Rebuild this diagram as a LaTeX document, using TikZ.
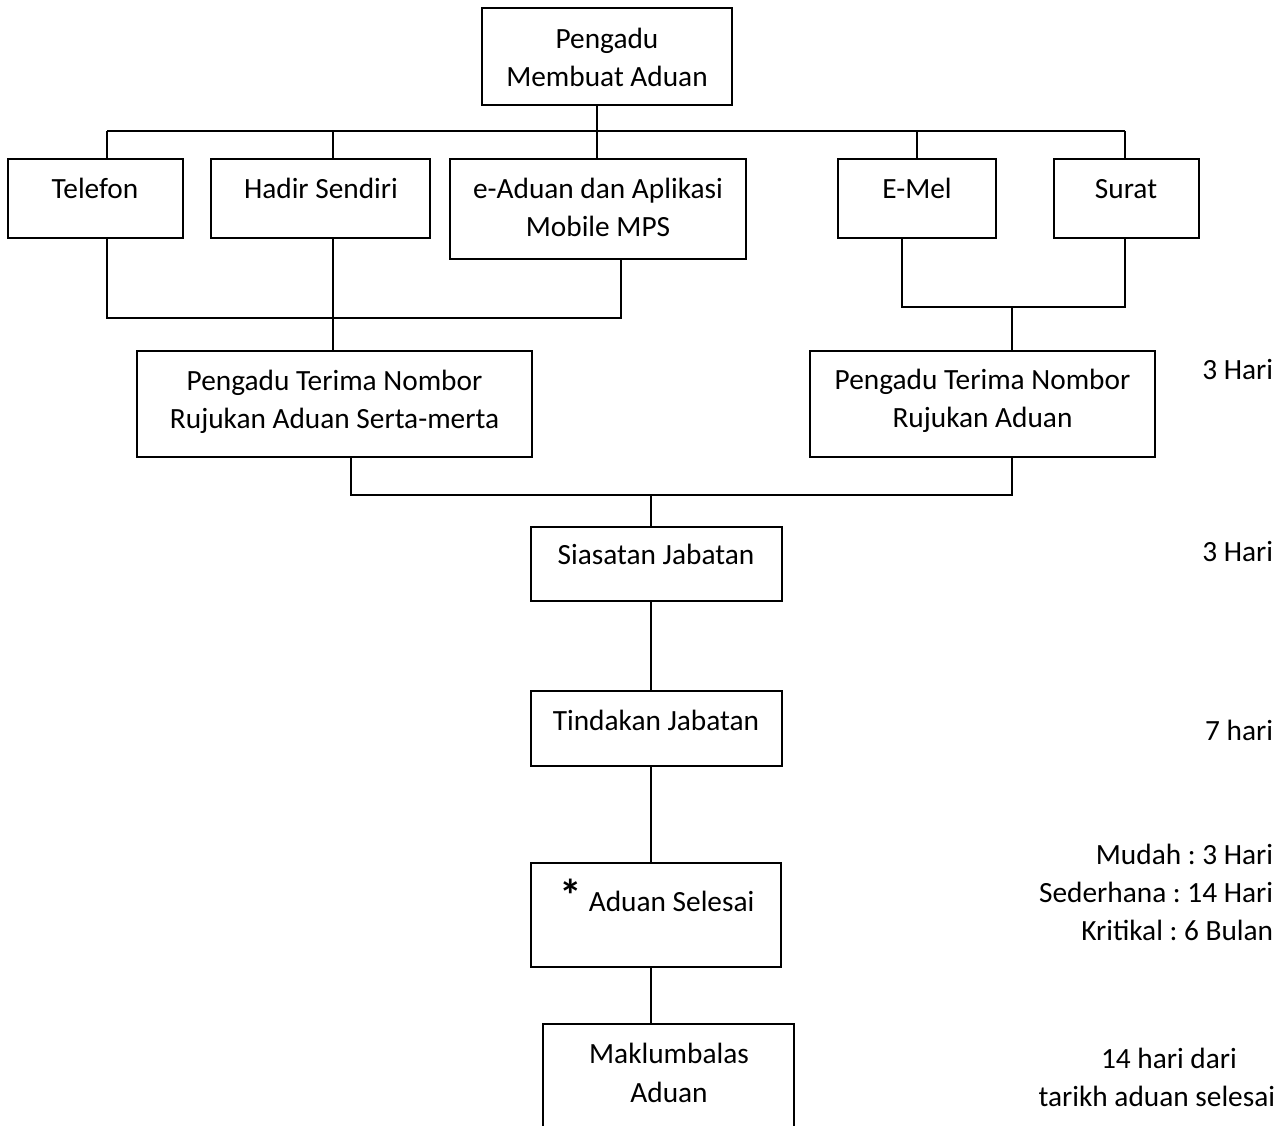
\documentclass[tikz,border=0pt]{standalone}
\usepackage{fontspec}
\setmainfont{Carlito}
\frenchspacing
\begin{document}
\begin{tikzpicture}[x=0.75pt,y=-0.75pt,
  line width=1.3pt,
  box/.style 2 args={draw, line width=1.3pt, inner sep=0pt,
    minimum width={#1*0.75pt}, minimum height={#2*0.75pt}},
  txt/.style={font=\fontsize{22}{29}\selectfont, inner sep=0pt, align=center, anchor=base},
  rtxt/.style={font=\fontsize{22}{28.5}\selectfont, inner sep=0pt, align=right, anchor=base east}]
\useasboundingbox (0,0) rectangle (1286,1126);

% boxes
\node[box={250}{97}]  (top)   at (607,56.5)   {};
\node[box={175}{79}]  (tel)   at (95.5,198.5) {};
\node[box={219}{79}]  (hadir) at (320.5,198.5){};
\node[box={296}{100}] (ead)   at (598,209)    {};
\node[box={158}{79}]  (emel)  at (917,198.5)  {};
\node[box={145}{79}]  (surat) at (1126.5,198.5){};
\node[box={395}{106}] (pt1)   at (334.5,404)  {};
\node[box={345}{106}] (pt2)   at (982.5,404)  {};
\node[box={251}{74}]  (sia)   at (656.5,564)  {};
\node[box={251}{75}]  (tin)   at (656.5,728.5){};
\node[box={250}{104}] (sel)   at (656,915)    {};

% open box at the bottom
\coordinate (mk1) at (543,1126);
\coordinate (mk2) at (543,1024);
\coordinate (mk3) at (794,1024);
\coordinate (mk4) at (794,1126);
\draw (mk1) -- (mk2) -- (mk3) -- (mk4);

% texts (anchor = baseline of last line)
\node[txt] (topT)   at (607,87)   {Pengadu\\Membuat Aduan};
\node[txt] (telT)   at (95,199)   {Telefon};
\node[txt] (hadirT) at (321,199)  {Hadir Sendiri};
\node[txt] (eadT)   at (598,237)  {e-Aduan dan Aplikasi\\Mobile MPS};
\node[txt] (emelT)  at (917,199)  {E-Mel};
\node[txt] (suratT) at (1126,199) {Surat};
\node[txt] (pt1T)   at (334.5,429){Pengadu Terima Nombor\\Rujukan Aduan Serta-merta};
\node[txt] (pt2T)   at (982.5,428){Pengadu Terima Nombor\\Rujukan Aduan};
\node[txt] (siaT)   at (656,565)  {Siasatan Jabatan};
\node[txt] (tinT)   at (656,730)  {Tindakan Jabatan};
\node[txt] (selT)   at (657,911)  {{\fontsize{34}{29}\selectfont\bfseries *} Aduan Selesai};
\node[txt] (mak)    at (669,1102) {Maklumbalas\\Aduan};

% time labels
\node[rtxt] (d1) at (1274,380) {3 Hari};
\node[rtxt] (d2) at (1274,562) {3 Hari};
\node[rtxt] (d3) at (1274,740) {7 hari};
\node[rtxt] (d4) at (1274,940) {Mudah : 3 Hari\\Sederhana : 14 Hari\\Kritikal : 6 Bulan};
\node[txt]  (d5) at (1169,1068) {14 hari dari};
\node[rtxt] (d6) at (1276,1106) {tarikh aduan selesai};

% top bus
\coordinate (tA) at (107,131);
\coordinate (tB) at (333,131);
\coordinate (tC) at (597,131);
\coordinate (tD) at (917,131);
\coordinate (tE) at (1125,131);
\draw (tA) -- (tE);
\draw (top.south -| tC) -- (tC);
\draw (tA) -- (tel.north -| tA);
\draw (tB) -- (hadir.north -| tB);
\draw (tC) -- (ead.north -| tC);
\draw (tD) -- (emel.north -| tD);
\draw (tE) -- (surat.north -| tE);

% left lower bus
\coordinate (lA) at (107,318);
\coordinate (lB) at (333,318);
\coordinate (lC) at (621,318);
\draw (tel.south -| lA) -- (lA) -- (lC) -- (ead.south -| lC);
\draw (hadir.south -| lB) -- (pt1.north -| lB);

% right lower bus
\coordinate (rA) at (902,307);
\coordinate (rB) at (1012,307);
\coordinate (rC) at (1125,307);
\draw (emel.south -| rA) -- (rA) -- (rC) -- (surat.south -| rC);
\draw (rB) -- (pt2.north -| rB);

% middle bus
\coordinate (mA) at (351,495);
\coordinate (mB) at (651,495);
\coordinate (mC) at (1012,495);
\draw (pt1.south -| mA) -- (mA) -- (mC) -- (pt2.south -| mC);
\draw (mB) -- (sia.north -| mB);
\draw (sia.south -| mB) -- (tin.north -| mB);
\draw (tin.south -| mB) -- (sel.north -| mB);
\draw (sel.south -| mB) -- (mB |- mk2);
\end{tikzpicture}
\end{document}
